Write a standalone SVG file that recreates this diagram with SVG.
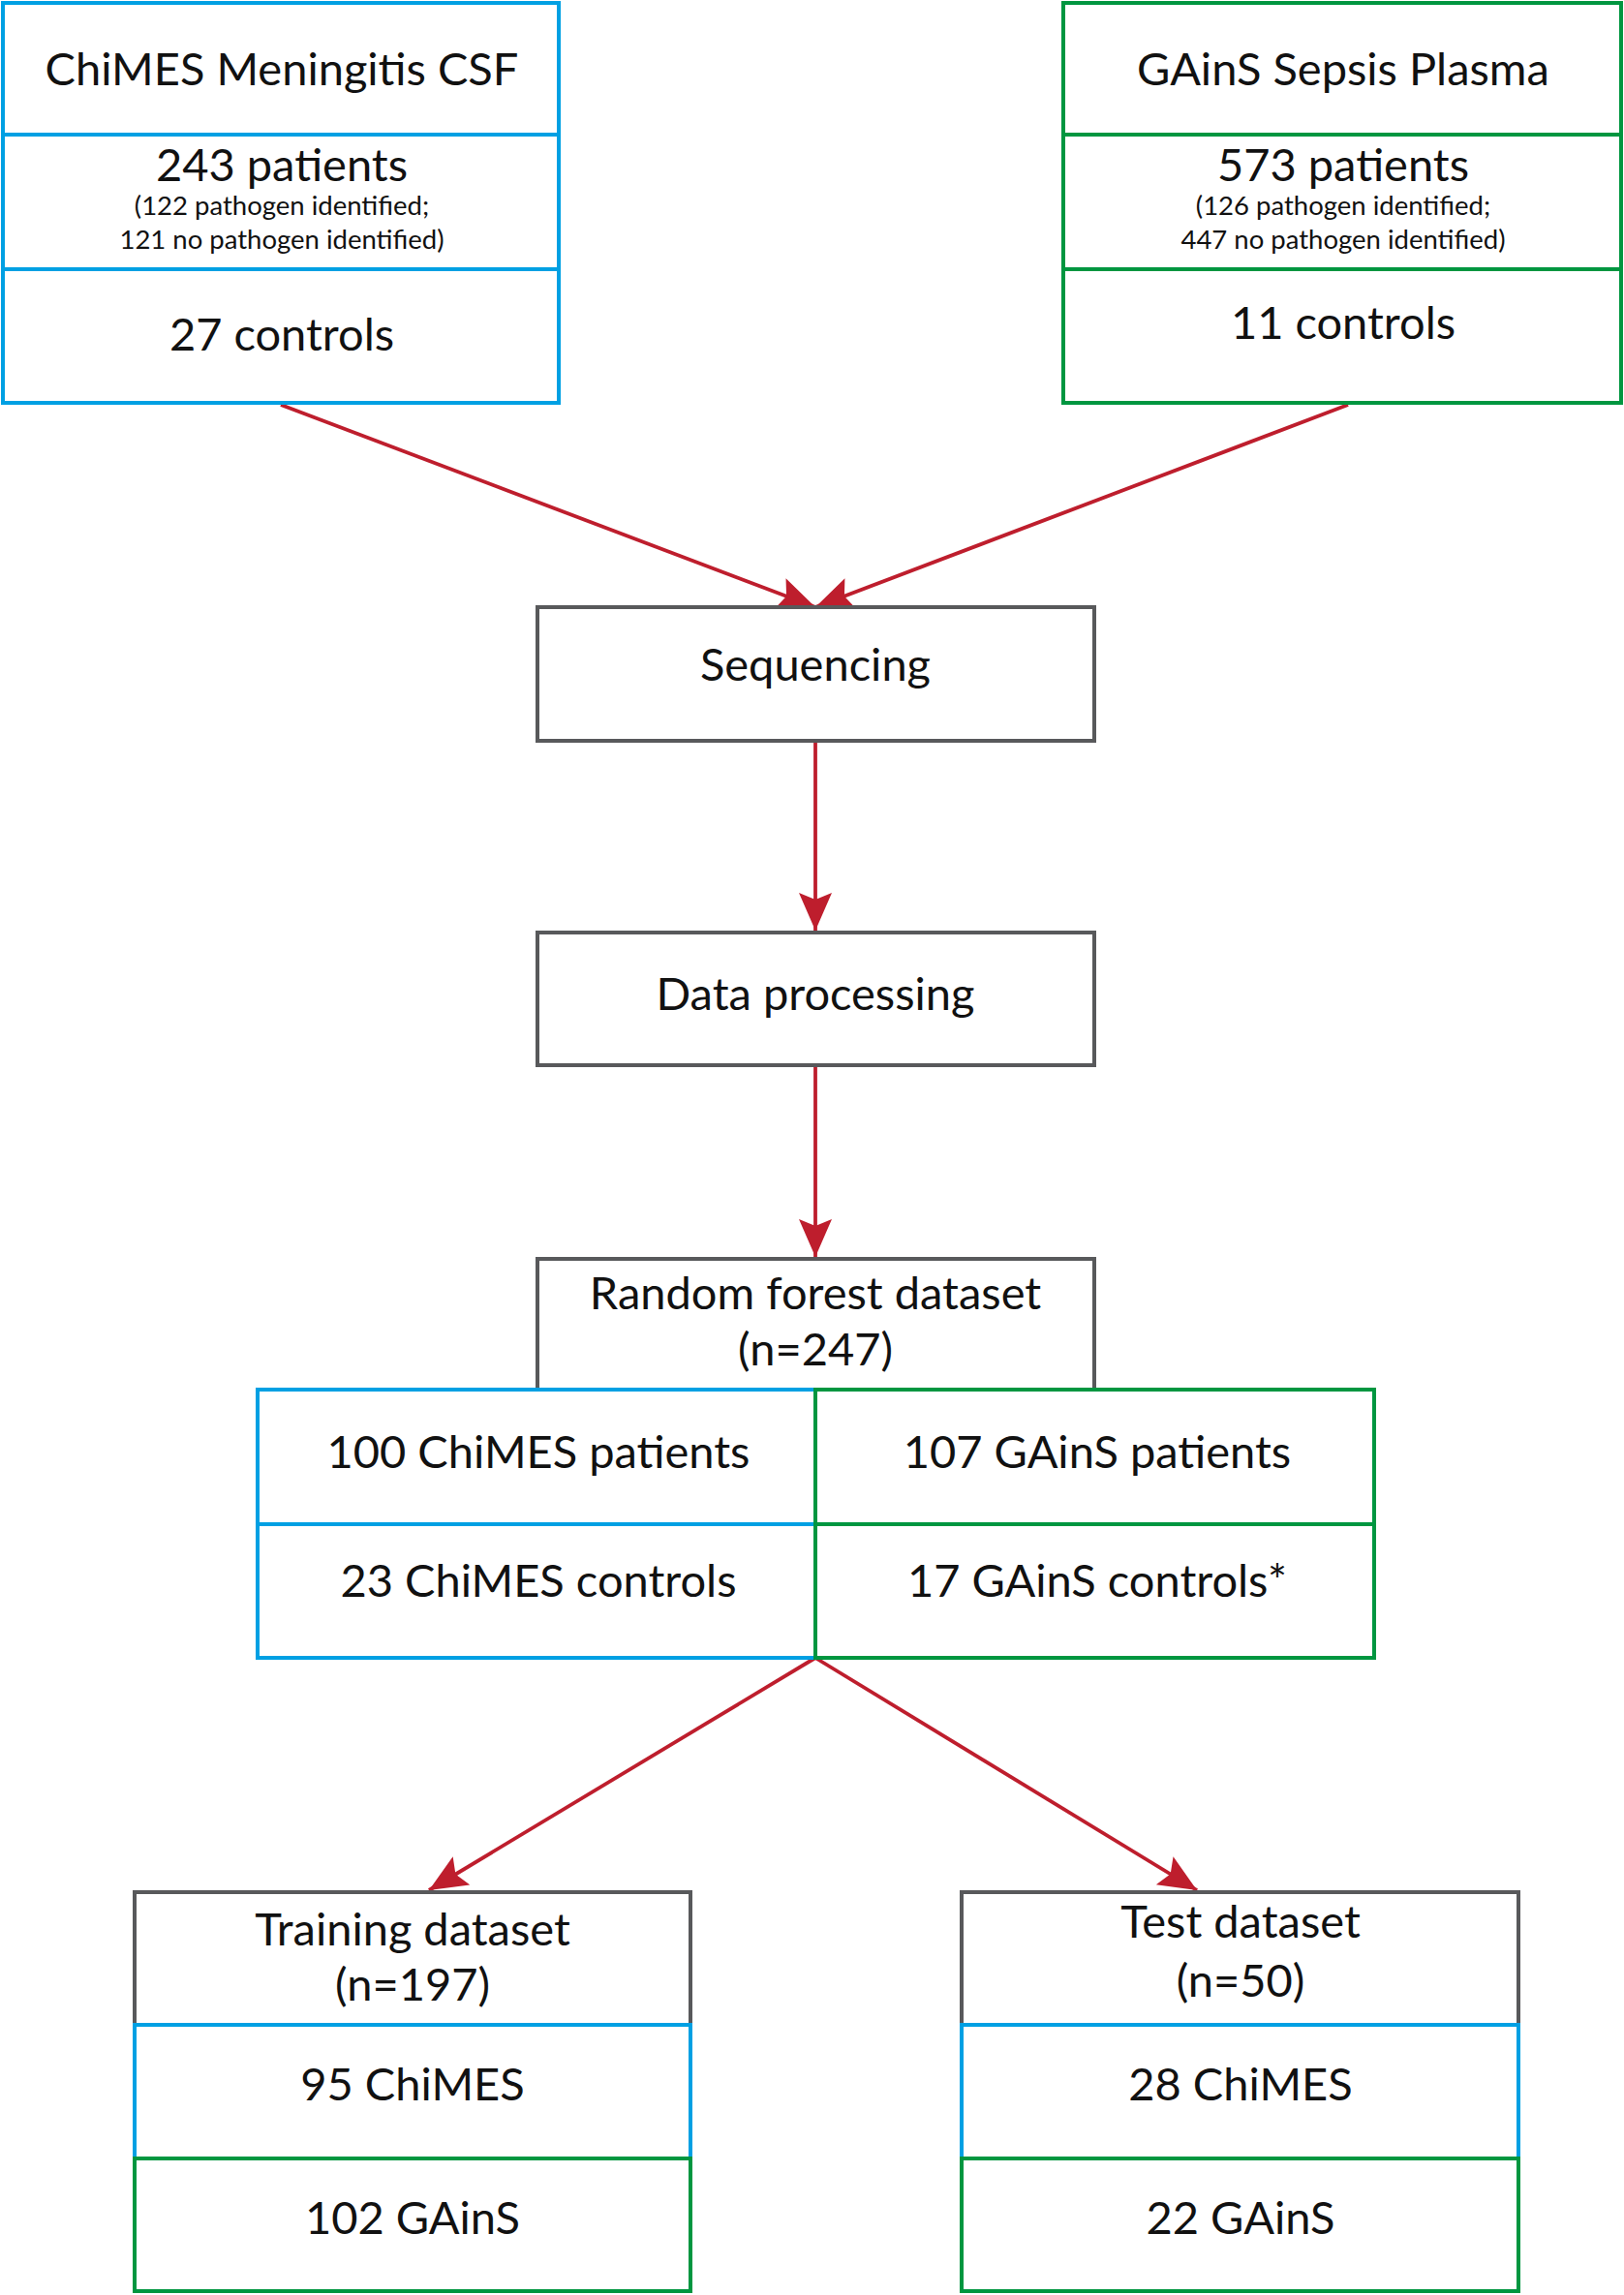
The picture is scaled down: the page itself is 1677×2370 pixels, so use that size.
<svg xmlns="http://www.w3.org/2000/svg" width="1677" height="2370" viewBox="0 0 1677 2370">
<style>
.t{font-family:Lato,"Open Sans","Liberation Sans",sans-serif;fill:#111111;text-anchor:middle}
.big{font-size:47px}
.small{font-size:27.5px}
.blue{fill:none;stroke:#00A0E3;stroke-width:4}
.green{fill:none;stroke:#009640;stroke-width:4}
.grey{fill:none;stroke:#58595B;stroke-width:4}
.conn{stroke:#BE1E2D;stroke-width:3.8;fill:none;marker-end:url(#ah)}
</style>
<defs>
<marker id="ah" markerUnits="userSpaceOnUse" markerWidth="42" markerHeight="36" refX="39" refY="17" orient="auto" viewBox="0 0 42 36">
<path d="M0,0 L39,17 L0,34 L7,17 Z" fill="#BE1E2D"/>
</marker>
</defs>
<rect width="1677" height="2370" fill="#ffffff"/>
<g id="connectors">
<line class="conn" x1="290" y1="418" x2="842" y2="627"/>
<line class="conn" x1="1392" y1="418" x2="842" y2="627"/>
<line class="conn" x1="842" y1="767" x2="842" y2="961"/>
<line class="conn" x1="842" y1="1102" x2="842" y2="1298"/>
<line class="conn" x1="842" y1="1712" x2="443" y2="1952"/>
<line class="conn" x1="842" y1="1712" x2="1236" y2="1952"/>
</g>
<g id="chimes">
<rect class="blue" x="3" y="3" width="574" height="413"/>
<line class="blue" x1="3" y1="139" x2="577" y2="139"/>
<line class="blue" x1="3" y1="278" x2="577" y2="278"/>
<text class="t big" x="291" y="88">ChiMES Meningitis CSF</text>
<text class="t big" x="291" y="187">243 patients</text>
<text class="t small" x="291" y="222">(122 pathogen identified;</text>
<text class="t small" x="291" y="257">121 no pathogen identified)</text>
<text class="t big" x="291" y="362">27 controls</text>
</g>
<g id="gains">
<rect class="green" x="1098" y="3" width="576" height="413"/>
<line class="green" x1="1098" y1="139" x2="1674" y2="139"/>
<line class="green" x1="1098" y1="278" x2="1674" y2="278"/>
<text class="t big" x="1387" y="88">GAinS Sepsis Plasma</text>
<text class="t big" x="1387" y="187">573 patients</text>
<text class="t small" x="1387" y="222">(126 pathogen identified;</text>
<text class="t small" x="1387" y="257">447 no pathogen identified)</text>
<text class="t big" x="1387" y="350">11 controls</text>
</g>
<g id="sequencing">
<rect class="grey" x="555" y="627" width="575" height="138"/>
<text class="t big" x="842" y="703">Sequencing</text>
</g>
<g id="data-processing">
<rect class="grey" x="555" y="963" width="575" height="137"/>
<text class="t big" x="842" y="1043">Data processing</text>
</g>
<g id="random-forest">
<rect class="grey" x="555" y="1300" width="575" height="135"/>
<text class="t big" x="842" y="1352">Random forest dataset</text>
<text class="t big" x="842" y="1410">(n=247)</text>
</g>
<g id="rf-chimes">
<rect class="blue" x="266" y="1435" width="576" height="277"/>
<line class="blue" x1="266" y1="1574" x2="842" y2="1574"/>
<text class="t big" x="556" y="1516">100 ChiMES patients</text>
<text class="t big" x="556" y="1649">23 ChiMES controls</text>
</g>
<g id="rf-gains">
<rect class="green" x="842" y="1435" width="577" height="277"/>
<line class="green" x1="842" y1="1574" x2="1419" y2="1574"/>
<text class="t big" x="1133" y="1516">107 GAinS patients</text>
<text class="t big" x="1133" y="1649">17 GAinS controls*</text>
</g>
<g id="training">
<rect class="grey" x="139" y="1954" width="574" height="137"/>
<rect class="blue" x="139" y="2091" width="574" height="138"/>
<rect class="green" x="139" y="2229" width="574" height="137"/>
<text class="t big" x="426" y="2009">Training dataset</text>
<text class="t big" x="426" y="2066">(n=197)</text>
<text class="t big" x="426" y="2169">95 ChiMES</text>
<text class="t big" x="426" y="2307">102 GAinS</text>
</g>
<g id="test">
<rect class="grey" x="993" y="1954" width="575" height="137"/>
<rect class="blue" x="993" y="2091" width="575" height="138"/>
<rect class="green" x="993" y="2229" width="575" height="137"/>
<text class="t big" x="1281" y="2001">Test dataset</text>
<text class="t big" x="1281" y="2062">(n=50)</text>
<text class="t big" x="1281" y="2169">28 ChiMES</text>
<text class="t big" x="1281" y="2307">22 GAinS</text>
</g>
</svg>
